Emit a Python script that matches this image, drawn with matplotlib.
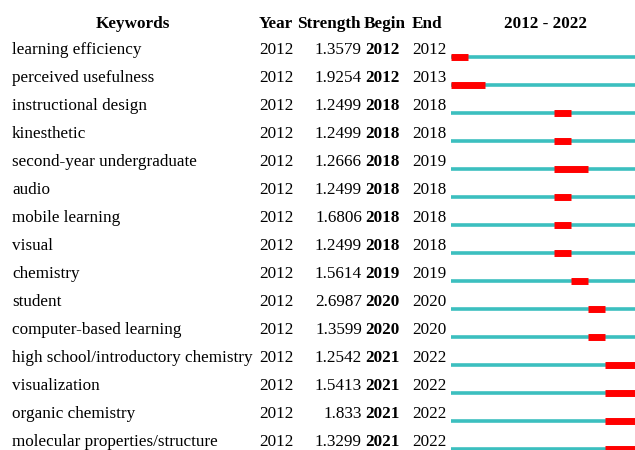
import matplotlib.pyplot as plt

keywords = ["learning efficiency", "perceived usefulness", "instructional design",
            "kinesthetic", "second-year undergraduate", "audio", "mobile learning",
            "visual", "chemistry", "student", "computer-based learning",
            "high school/introductory chemistry", "visualization", "organic chemistry",
            "molecular properties/structure"]
year = [2012] * 15
strength = ["1.3579", "1.9254", "1.2499", "1.2499", "1.2666", "1.2499", "1.6806",
            "1.2499", "1.5614", "2.6987", "1.3599", "1.2542", "1.5413", "1.833", "1.3299"]
begin = [2012, 2012, 2018, 2018, 2018, 2018, 2018, 2018, 2019, 2020, 2020, 2021, 2021, 2021, 2021]
end = [2012, 2013, 2018, 2018, 2019, 2018, 2018, 2018, 2019, 2020, 2020, 2022, 2022, 2022, 2022]
start_year, end_year = 2012, 2022

plt.rcParams['font.family'] = ['Liberation Serif', 'DejaVu Serif']
W, H = 635, 450
fig = plt.figure(figsize=(W / 100, H / 100), dpi=100)

# rows: row r sits at pixel 50 + 28 r
top_r = -50 / 28
bot_r = (H - 50) / 28
ax = fig.add_axes([0, 0, 1, 1])
ax.set_xlim(0, W)
ax.set_ylim(bot_r, top_r)
ax.axis('off')

fs = 12.3
hy = -0.93
ax.text(133, hy, "Keywords", ha='center', va='center', fontsize=fs, fontweight='bold')
ax.text(259, hy, "Year", ha='left', va='center', fontsize=fs, fontweight='bold')
ax.text(297, hy, "Strength", ha='left', va='center', fontsize=fs, fontweight='bold')
ax.text(364, hy, "Begin", ha='left', va='center', fontsize=fs, fontweight='bold')
ax.text(412, hy, "End", ha='left', va='center', fontsize=fs, fontweight='bold')
ax.text(545, hy, f"{start_year} - {end_year}", ha='center', va='center', fontsize=fs, fontweight='bold')

for i in range(len(keywords)):
    ax.text(12, i, keywords[i], ha='left', va='center', fontsize=fs)
    ax.text(259, i, str(year[i]), ha='left', va='center', fontsize=fs)
    ax.text(362, i, strength[i], ha='right', va='center', fontsize=fs)
    ax.text(365, i, str(begin[i]), ha='left', va='center', fontsize=fs, fontweight='bold')
    ax.text(412, i, str(end[i]), ha='left', va='center', fontsize=fs)

# timeline axes in year units
x0 = 451
yw = 17.1
tl = fig.add_axes([x0 / W, 0, yw * (end_year - start_year + 1) / W, 1])
tl.set_xlim(start_year, end_year + 1)
tl.set_ylim(bot_r, top_r)
tl.axis('off')
for i in range(len(keywords)):
    yb = i + 7 / 28
    tl.plot([start_year, end_year + 1], [yb, yb], color='#3cbfbf', lw=2.6,
            solid_capstyle='butt')
    tl.plot([begin[i], end[i] + 1], [yb, yb], color='#ff0000', lw=5,
            solid_capstyle='butt')

fig.savefig('out.png', dpi=100)
